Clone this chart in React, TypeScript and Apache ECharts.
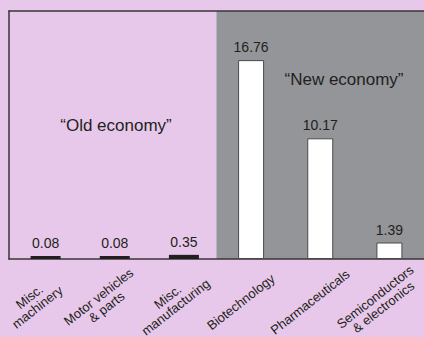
import React, { useEffect, useRef } from "react";
import * as echarts from "echarts";

const categories = [
  "Misc.\nmachinery",
  "Motor vehicles\n& parts",
  "Misc.\nmanufacturing",
  "Biotechnology",
  "Pharmaceuticals",
  "Semiconductors\n& electronics",
];
const values = [0.08, 0.08, 0.35, 16.76, 10.17, 1.39];
const isNewEconomy = [false, false, false, true, true, true];
const groupLabels = ["\u201COld economy\u201D", "\u201CNew economy\u201D"];

const PINK = "#e8c8ea";
const GRAY = "#939598";
const DARK = "#231f20";

export default function App() {
  const ref = useRef<HTMLDivElement>(null);
  useEffect(() => {
    if (!ref.current) return;
    const chart = echarts.init(ref.current, null, { renderer: "svg" });
    const font = "'Liberation Sans', Arial, Helvetica, sans-serif";
    const valueLabel = {
      show: true,
      position: "top",
      distance: 6,
      fontSize: 14,
      color: DARK,
      fontFamily: font,
      formatter: (p: any) => Number(p.value).toFixed(2),
    };
    chart.setOption({
      animation: false,
      backgroundColor: PINK,
      textStyle: { fontFamily: font },
      grid: {
        left: 9,
        right: 0,
        top: 11,
        bottom: 78,
        containLabel: false,
        outerBoundsMode: "none",
      },
      xAxis: [
        {
          type: "category",
          data: categories,
          boundaryGap: true,
          axisLine: { show: true, lineStyle: { color: "#3a3538", width: 1.5 } },
          axisTick: { show: false },
          splitLine: { show: false },
          axisLabel: {
            rotate: 38,
            align: "center",
            verticalAlign: "middle",
            margin: 35,
            padding: [0, 26, 0, 0],
            fontSize: 13,
            lineHeight: 13,
            color: DARK,
            fontFamily: font,
            interval: 0,
            hideOverlap: false,
          },
        },
        {
          type: "category",
          position: "top",
          data: groupLabels,
          boundaryGap: true,
          axisLine: { show: true, lineStyle: { color: "#3a3538", width: 1.5 } },
          axisTick: { show: false },
          axisLabel: { show: false },
          splitLine: { show: false },
          splitArea: { show: true, areaStyle: { color: [PINK, GRAY] } },
        },
      ],
      yAxis: {
        type: "value",
        min: 0,
        max: 20.9,
        axisLine: { show: true, lineStyle: { color: "#3a3538", width: 1.5 } },
        axisTick: { show: false },
        axisLabel: { show: false },
        splitLine: { show: false },
      },
      series: [
        {
          type: "bar",
          name: "old",
          barWidth: 30,
          barGap: "-100%",
          barMinHeight: 3,
          data: values.map((v, i) => (isNewEconomy[i] ? "-" : v)),
          itemStyle: { color: DARK },
          label: valueLabel,
        },
        {
          type: "bar",
          name: "new",
          barWidth: 26,
          barGap: "-100%",
          data: values.map((v, i) => (isNewEconomy[i] ? v : "-")),
          itemStyle: { color: "#ffffff", borderColor: "#4a4a4a", borderWidth: 1 },
          label: valueLabel,
        },
      ],
      graphic: [
        {
          type: "text",
          x: 116,
          y: 125,
          z: 100,
          zlevel: 1,
          style: {
            text: groupLabels[0],
            fontSize: 17,
            fontFamily: font,
            fill: DARK,
            align: "center",
            verticalAlign: "middle",
          },
        },
        {
          type: "text",
          x: 344,
          y: 79,
          z: 100,
          zlevel: 1,
          style: {
            text: groupLabels[1],
            fontSize: 17,
            fontFamily: font,
            fill: DARK,
            align: "center",
            verticalAlign: "middle",
          },
        },
      ],
    });
    return () => chart.dispose();
  }, []);
  return (
    <div
      ref={ref}
      style={{ position: "fixed", left: 0, top: 0, width: 424, height: 337 }}
    />
  );
}
